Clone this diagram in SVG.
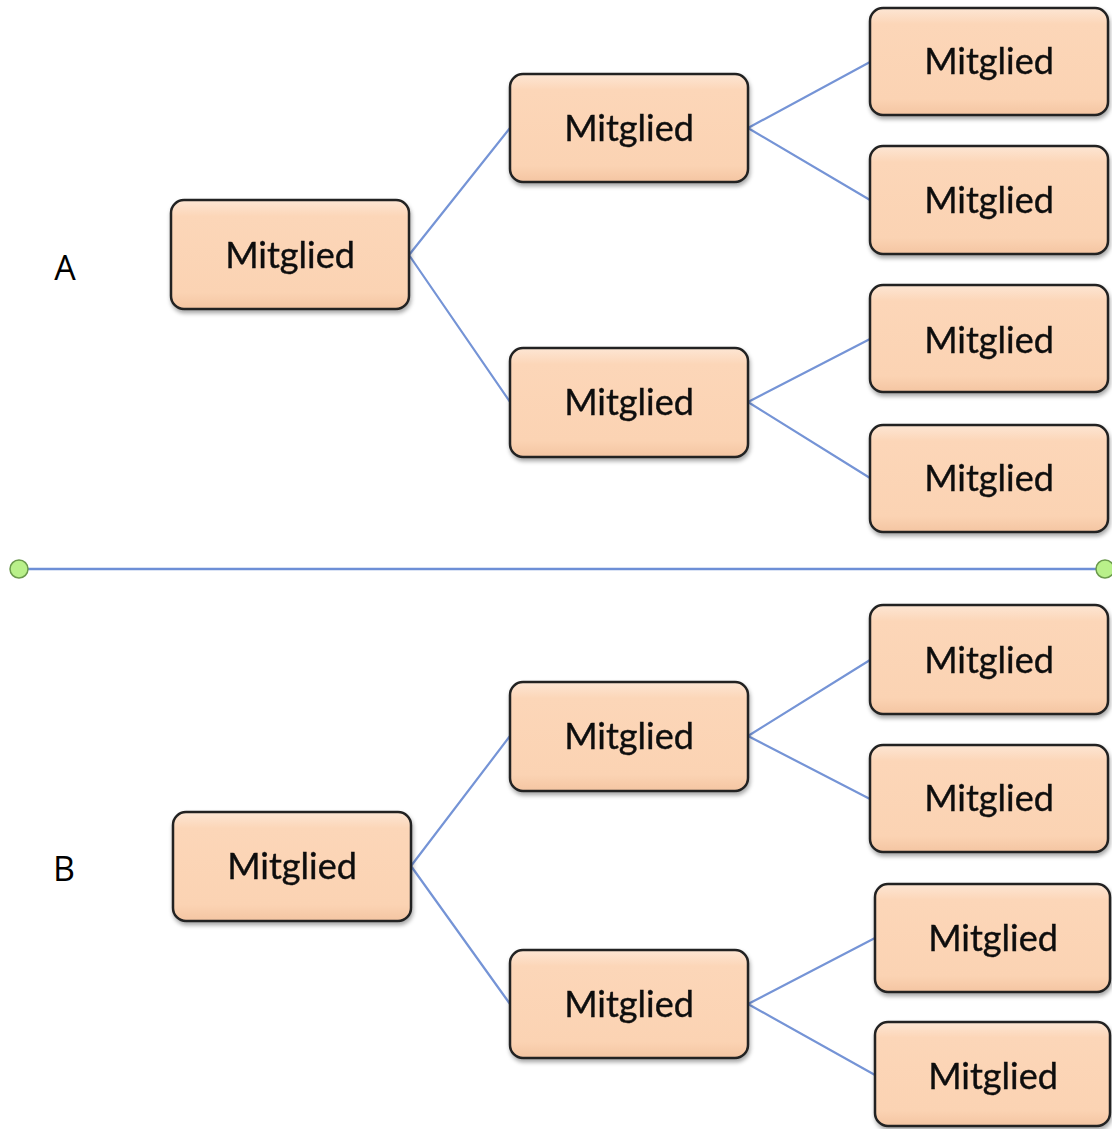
<svg xmlns="http://www.w3.org/2000/svg" width="1112" height="1129" viewBox="0 0 1112 1129">
<style>
.box{fill:url(#g);stroke:#222;stroke-width:2.5}
.t{font-family:Lato,"Open Sans",sans-serif;font-size:36px;fill:#111;text-anchor:middle;stroke:#111;stroke-width:0.4}
.lbl{font-family:"Open Sans",Lato,sans-serif;font-size:34px;fill:#000;text-anchor:middle}
.c{stroke:#7594d6;stroke-width:2.2;fill:none}
</style>
<defs>
<linearGradient id="g" x1="0" y1="0" x2="0" y2="1">
<stop offset="0" stop-color="#fde6d4"/>
<stop offset="0.15" stop-color="#fcd6b8"/>
<stop offset="0.85" stop-color="#fbd3b3"/>
<stop offset="1" stop-color="#f4c5a2"/>
</linearGradient>
<filter id="sh" x="-10%" y="-10%" width="120%" height="130%">
<feDropShadow dx="1" dy="3" stdDeviation="2" flood-color="#000" flood-opacity="0.35"/>
</filter>
</defs>
<g id="connectors">
<path class="c" d="M409 255 L510 128 M409 255 L510 402 M748 128 L870 62 M748 128 L870 200 M748 402 L870 339 M748 402 L870 478"/>
<path class="c" d="M411 866 L510 736 M411 866 L510 1004 M748 736 L870 660 M748 736 L870 799 M748 1004 L875 938 M748 1004 L875 1075"/>
<line x1="19" y1="569" x2="1105" y2="569" stroke="#6d8fd6" stroke-width="2.5"/>
<circle cx="19" cy="569" r="9" fill="#b9f08a" stroke="#6b9a4c" stroke-width="1.5"/>
<circle cx="1105" cy="569" r="9" fill="#b9f08a" stroke="#6b9a4c" stroke-width="1.5"/>
</g>
<text class="lbl" x="65" y="280">A</text>
<text class="lbl" x="64" y="881">B</text>
<g id="a-root" filter="url(#sh)"><rect class="box" x="171" y="200" width="238" height="109" rx="13"/><text class="t" x="290" y="268">Mitglied</text></g>
<g id="a-m1" filter="url(#sh)"><rect class="box" x="510" y="74" width="238" height="108" rx="13"/><text class="t" x="629" y="141">Mitglied</text></g>
<g id="a-m2" filter="url(#sh)"><rect class="box" x="510" y="348" width="238" height="109" rx="13"/><text class="t" x="629" y="415">Mitglied</text></g>
<g id="a-l1" filter="url(#sh)"><rect class="box" x="870" y="8" width="238" height="107" rx="13"/><text class="t" x="989" y="74">Mitglied</text></g>
<g id="a-l2" filter="url(#sh)"><rect class="box" x="870" y="146" width="238" height="108" rx="13"/><text class="t" x="989" y="213">Mitglied</text></g>
<g id="a-l3" filter="url(#sh)"><rect class="box" x="870" y="285" width="238" height="107" rx="13"/><text class="t" x="989" y="353">Mitglied</text></g>
<g id="a-l4" filter="url(#sh)"><rect class="box" x="870" y="425" width="238" height="107" rx="13"/><text class="t" x="989" y="491">Mitglied</text></g>
<g id="b-root" filter="url(#sh)"><rect class="box" x="173" y="812" width="238" height="109" rx="13"/><text class="t" x="292" y="879">Mitglied</text></g>
<g id="b-m1" filter="url(#sh)"><rect class="box" x="510" y="682" width="238" height="109" rx="13"/><text class="t" x="629" y="749">Mitglied</text></g>
<g id="b-m2" filter="url(#sh)"><rect class="box" x="510" y="950" width="238" height="108" rx="13"/><text class="t" x="629" y="1017">Mitglied</text></g>
<g id="b-l1" filter="url(#sh)"><rect class="box" x="870" y="605" width="238" height="109" rx="13"/><text class="t" x="989" y="673">Mitglied</text></g>
<g id="b-l2" filter="url(#sh)"><rect class="box" x="870" y="745" width="238" height="107" rx="13"/><text class="t" x="989" y="811">Mitglied</text></g>
<g id="b-l3" filter="url(#sh)"><rect class="box" x="875" y="884" width="235" height="108" rx="13"/><text class="t" x="993" y="951">Mitglied</text></g>
<g id="b-l4" filter="url(#sh)"><rect class="box" x="875" y="1022" width="235" height="104" rx="13"/><text class="t" x="993" y="1089">Mitglied</text></g>
</svg>
